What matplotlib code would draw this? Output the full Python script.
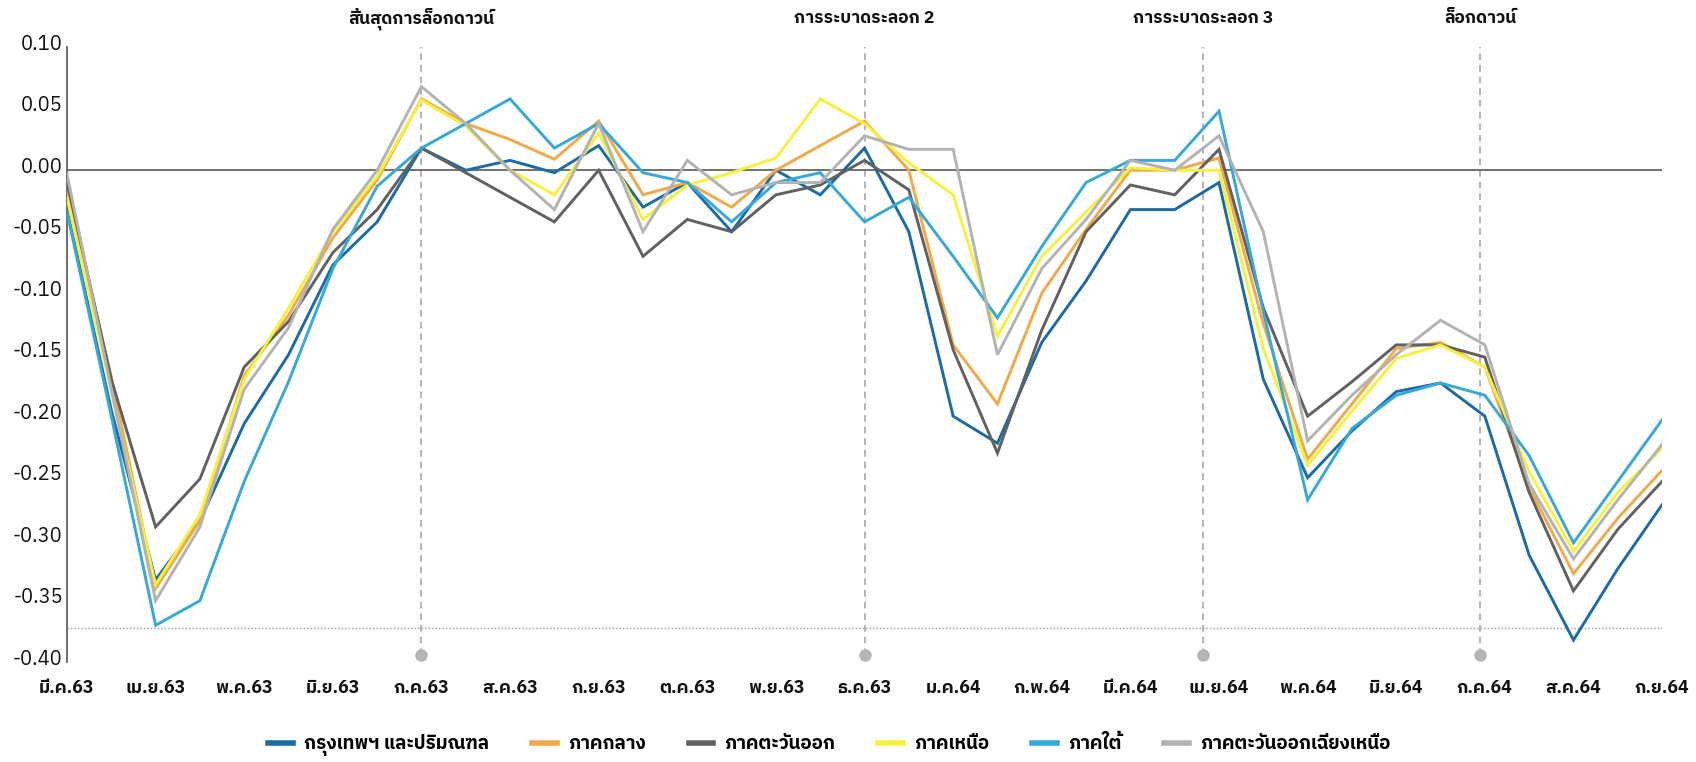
import matplotlib
matplotlib.use("Agg")
import matplotlib.pyplot as plt
from matplotlib import font_manager as fm
from matplotlib.ft2font import FT2Font
from matplotlib.transforms import ScaledTranslation, blended_transform_factory

# ---------------- font with Thai glyphs ----------------
def _has_thai(path):
    try:
        f = FT2Font(path)
        cm = f.get_charmap()
        return 0x0E01 in cm and 0x0E48 in cm and 0x0E33 in cm
    except Exception:
        return False

thai_fams = []
for fe in fm.fontManager.ttflist:
    if fe.name not in thai_fams and _has_thai(fe.fname):
        thai_fams.append(fe.name)
pref = [n for n in thai_fams if "Sans" in n and "Mono" not in n] + thai_fams
families = ([pref[0]] if pref else []) + ["DejaVu Sans"]
plt.rcParams["font.family"] = families

# ---------------- data ----------------
month_labels = ["มี.ค.63", "เม.ย.63", "พ.ค.63", "มิ.ย.63", "ก.ค.63", "ส.ค.63", "ก.ย.63",
                "ต.ค.63", "พ.ย.63", "ธ.ค.63", "ม.ค.64", "ก.พ.64", "มี.ค.64", "เม.ย.64",
                "พ.ค.64", "มิ.ย.64", "ก.ค.64", "ส.ค.64", "ก.ย.64"]

bangkok = [-0.032, -0.195, -0.333, -0.285, -0.206, -0.150, -0.077, -0.042, 0.018, 0.000,
           0.008, -0.002, 0.020, -0.030, -0.010, -0.050, 0.000, -0.020, 0.018, -0.050,
           -0.200, -0.222, -0.140, -0.090, -0.032, -0.032, -0.010, -0.170, -0.250, -0.212,
           -0.180, -0.173, -0.200, -0.313, -0.382, -0.324, -0.272]
central = [-0.015, -0.168, -0.340, -0.285, -0.167, -0.118, -0.055, -0.008, 0.058, 0.038,
           0.025, 0.009, 0.040, -0.020, -0.010, -0.030, 0.000, 0.020, 0.040, 0.000,
           -0.142, -0.190, -0.100, -0.048, 0.000, 0.000, 0.010, -0.125, -0.235, -0.190,
           -0.145, -0.140, -0.160, -0.258, -0.328, -0.283, -0.244]
east = [-0.010, -0.170, -0.290, -0.251, -0.160, -0.123, -0.067, -0.032, 0.018, -0.002,
        -0.022, -0.042, 0.000, -0.070, -0.040, -0.050, -0.020, -0.012, 0.008, -0.016,
        -0.146, -0.230, -0.130, -0.050, -0.012, -0.020, 0.017, -0.112, -0.200, -0.172,
        -0.142, -0.142, -0.152, -0.262, -0.342, -0.292, -0.253]
north = [-0.022, -0.180, -0.337, -0.280, -0.170, -0.112, -0.050, -0.005, 0.057, 0.036,
         0.000, -0.020, 0.030, -0.040, -0.012, -0.002, 0.010, 0.058, 0.038, 0.006,
         -0.020, -0.135, -0.070, -0.034, 0.002, 0.000, 0.000, -0.145, -0.240, -0.196,
         -0.153, -0.142, -0.160, -0.245, -0.310, -0.262, -0.226]
south = [-0.034, -0.200, -0.370, -0.350, -0.253, -0.172, -0.080, -0.013, 0.018, 0.038,
         0.058, 0.018, 0.038, -0.002, -0.010, -0.042, -0.010, -0.002, -0.042, -0.022,
         -0.070, -0.120, -0.062, -0.010, 0.008, 0.008, 0.048, -0.115, -0.268, -0.210,
         -0.183, -0.173, -0.183, -0.232, -0.303, -0.253, -0.203]
northeast = [-0.003, -0.178, -0.350, -0.290, -0.178, -0.128, -0.048, 0.000, 0.068, 0.038,
             0.000, -0.032, 0.038, -0.050, 0.008, -0.020, -0.010, -0.010, 0.028, 0.017,
             0.017, -0.150, -0.080, -0.040, 0.008, 0.000, 0.028, -0.050, -0.220, -0.183,
             -0.150, -0.122, -0.142, -0.255, -0.316, -0.268, -0.223]

series_names = ["กรุงเทพฯ และปริมณฑล", "ภาคกลาง", "ภาคตะวันออก", "ภาคเหนือ", "ภาคใต้",
                "ภาคตะวันออกเฉียงเหนือ"]
series_values = [bangkok, central, east, north, south, northeast]
series_colors = ["#1b6ca6", "#f2aa48", "#616161", "#f6f23c", "#36a9da", "#b3b3b3"]

event_labels = ["สิ้นสุดการล็อกดาวน์", "การระบาดระลอก 2", "การระบาดระลอก 3", "ล็อกดาวน์"]
event_pos = [8, 18, 25.65, 31.9]

reference_level = -0.372

y_ticks = [0.10, 0.05, 0.00, -0.05, -0.10, -0.15, -0.20, -0.25, -0.30, -0.35, -0.40]

# ---------------- figure ----------------
fig = plt.figure(figsize=(16.96, 7.62), dpi=100)
ax = fig.add_axes([0.0395, 0.131, 0.9405, 0.807])

x = list(range(len(bangkok)))
for name, vals, col in zip(series_names, series_values, series_colors):
    ax.plot(x, vals, color=col, lw=2.1, label=name, solid_joinstyle="miter", zorder=3)

ax.axhline(0, color="#666666", lw=1.3, zorder=2)
ax.axhline(reference_level, color="#9a9a9a", lw=1.0, ls=(0, (1, 1.5)), zorder=1)

for xp, lab in zip(event_pos, event_labels):
    ax.plot([xp, xp], [-0.394, 0.10], color="#a8a8a8", lw=1.2, ls=(0, (4, 3)),
            zorder=1, clip_on=False)
    ax.plot([xp], [-0.394], marker="o", ms=9, color="#b5b5b5", mec="none",
            zorder=4, clip_on=False)
    ax.text(xp, 1.047, lab, transform=blended_transform_factory(ax.transData, ax.transAxes),
            ha="center", va="center", fontsize=12.5, fontweight="bold", color="#111111")

ax.set_xlim(0, len(bangkok) - 1)
ax.set_ylim(-0.40, 0.10)
ax.set_yticks(y_ticks)
ax.set_yticklabels([f"{v:.2f}" for v in y_ticks])
ax.set_xticks(list(range(0, len(bangkok), 2)))
ax.set_xticklabels(month_labels)

ax.tick_params(axis="y", length=0, pad=3, labelsize=14.5, colors="#111111")
ax.tick_params(axis="x", length=0, pad=12, labelsize=12.8, colors="#111111")
for lbl in ax.get_xticklabels():
    lbl.set_fontweight("bold")
off = ScaledTranslation(0, 5 / 100, fig.dpi_scale_trans)
for lbl in ax.get_yticklabels():
    lbl.set_transform(lbl.get_transform() + off)

for s in ["top", "right", "bottom"]:
    ax.spines[s].set_visible(False)
ax.spines["left"].set_color("#555555")
ax.spines["left"].set_linewidth(1.2)

leg = fig.legend(loc="center", bbox_to_anchor=(0.489, 0.022), ncol=6, frameon=False,
                 fontsize=13.5, handlelength=1.3, handletextpad=0.6, columnspacing=2.3)
for h in leg.get_lines():
    h.set_linewidth(4)
for t in leg.get_texts():
    t.set_fontweight("bold")

fig.savefig("out.png", dpi=100)
